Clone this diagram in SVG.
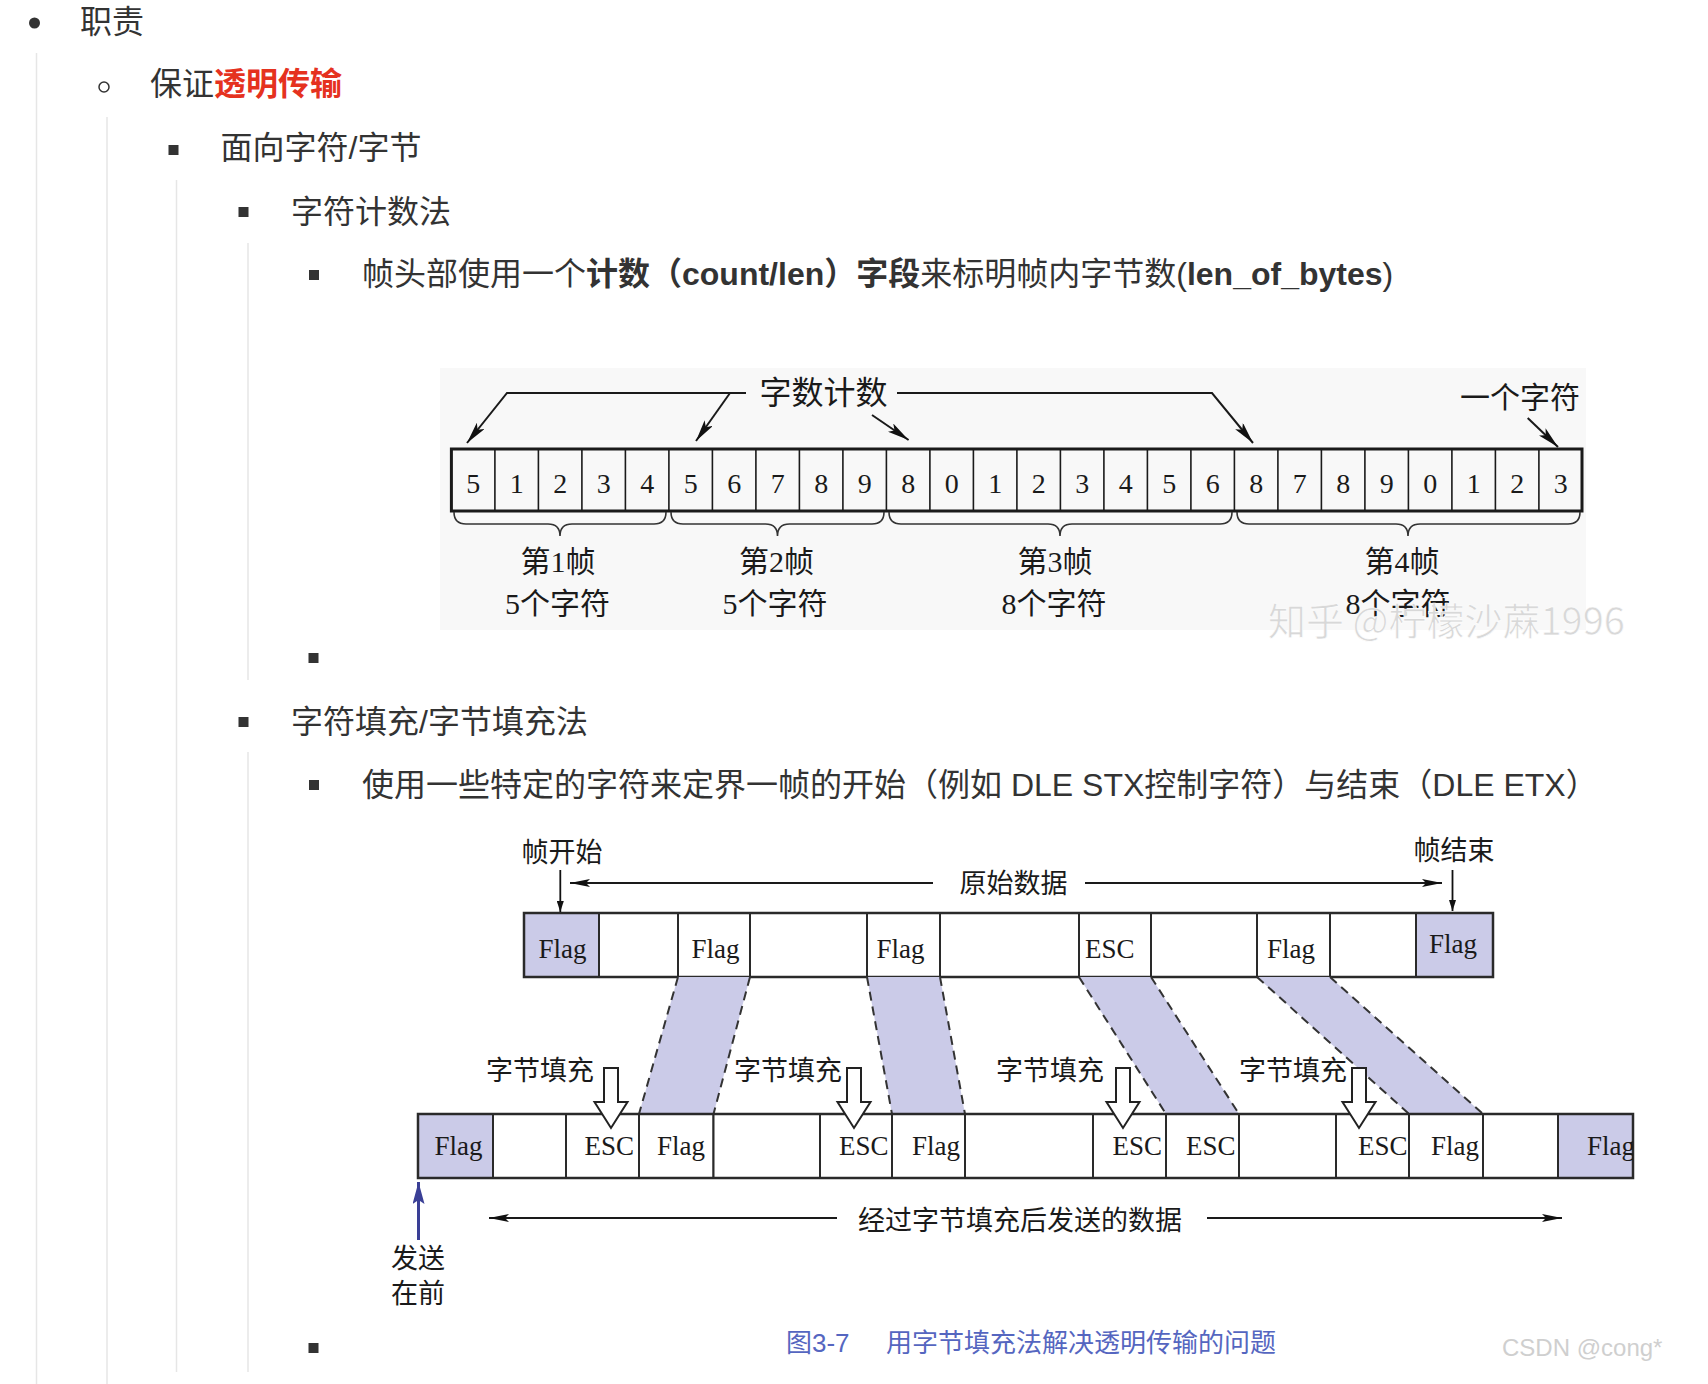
<svg xmlns="http://www.w3.org/2000/svg" width="1708" height="1384" viewBox="0 0 1708 1384">
<style>
.t{font-family:"Liberation Sans","Noto Sans CJK SC",sans-serif;font-size:32px;fill:#333}
.b{font-weight:bold}
.red{fill:#e5321f;font-weight:bold}
.guide{stroke:#e6e6e6;stroke-width:1.5}
.sq{fill:#333}
.fs{font-family:"Liberation Serif","Noto Sans CJK SC",serif;fill:#1a1a1a}
.d1{font-size:28px}
.l1{font-size:30px}
.l2{font-size:27px}
.cell{fill:none;stroke:#1a1a1a;stroke-width:1.6}
.outer{fill:none;stroke:#1a1a1a;stroke-width:3}
.ln{fill:none;stroke:#1a1a1a;stroke-width:2}
.brace{fill:none;stroke:#333;stroke-width:1.6}
.box{stroke:#2a2a2a;stroke-width:2}
.pur{fill:#cbcbe8}
.wht{fill:#fff}
.dash{fill:none;stroke:#333;stroke-width:2;stroke-dasharray:9 6}
.hollow{fill:#fff;stroke:#222;stroke-width:2}
</style>
<defs>
<marker id="ah" markerUnits="userSpaceOnUse" markerWidth="24" markerHeight="10" refX="22" refY="5" orient="auto"><path d="M0,0 L22,5 L0,10 L5,5 z" fill="#111"/></marker>
<marker id="ah2" markerUnits="userSpaceOnUse" markerWidth="22" markerHeight="8" refX="20" refY="4" orient="auto"><path d="M0,0 L20,4 L0,8 L4,4 z" fill="#111"/></marker>
<marker id="ah3" markerUnits="userSpaceOnUse" markerWidth="12" markerHeight="7" refX="11" refY="3.5" orient="auto"><path d="M0,0 L11,3.5 L0,7 z" fill="#111"/></marker>
<marker id="ahb" markerUnits="userSpaceOnUse" markerWidth="24" markerHeight="12" refX="22" refY="6" orient="auto"><path d="M0,0 L22,6 L0,12 L4,6 z" fill="#3a3f96"/></marker>
</defs>
<rect width="1708" height="1384" fill="#fff"/>

<g id="tree">
<line class="guide" x1="36.5" y1="53" x2="36.5" y2="1384"/>
<line class="guide" x1="107" y1="117" x2="107" y2="1384"/>
<line class="guide" x1="176.5" y1="180" x2="176.5" y2="1372"/>
<line class="guide" x1="248" y1="243" x2="248" y2="680"/>
<line class="guide" x1="248" y1="752" x2="248" y2="1372"/>
<circle cx="34.5" cy="23" r="5.5" fill="#333"/>
<text class="t" x="80" y="33">职责</text>
<circle cx="104" cy="87" r="5" fill="none" stroke="#333" stroke-width="1.5"/>
<text class="t" x="150" y="95">保证<tspan class="red">透明传输</tspan></text>
<rect class="sq" x="168.5" y="145" width="10" height="10"/>
<text class="t" x="220.5" y="159">面向字符/字节</text>
<rect class="sq" x="238.5" y="207" width="10" height="10"/>
<text class="t" x="291" y="222.5">字符计数法</text>
<rect class="sq" x="309" y="270" width="10" height="10"/>
<text class="t" x="362" y="285">帧头部使用一个<tspan class="b">计数（count/len）字段</tspan>来标明帧内字节数(<tspan class="b">len_of_bytes</tspan>)</text>
<rect class="sq" x="308.5" y="653" width="10" height="10"/>
<rect class="sq" x="238.5" y="717" width="10" height="10"/>
<text class="t" x="291" y="733">字符填充/字节填充法</text>
<rect class="sq" x="309" y="780" width="10" height="10"/>
<text class="t" x="362" y="796">使用一些特定的字符来定界一帧的开始（例如 DLE STX控制字符）与结束（DLE ETX）</text>
<rect class="sq" x="308.5" y="1343" width="10" height="10"/>
</g>

<g id="fig1">
<rect x="440" y="368" width="1146" height="262" fill="#f8f8f8"/>
<g id="cells">
<rect class="outer" x="451.4" y="449" width="1130.6" height="62"/>
<path class="cell" d="M494.9,449V511M538.4,449V511M581.9,449V511M625.4,449V511M668.9,449V511M712.4,449V511M755.9,449V511M799.4,449V511M842.9,449V511M886.4,449V511M929.9,449V511M973.4,449V511M1016.9,449V511M1060.4,449V511M1103.9,449V511M1147.4,449V511M1190.9,449V511M1234.4,449V511M1277.9,449V511M1321.4,449V511M1364.9,449V511M1408.4,449V511M1451.9,449V511M1495.4,449V511M1538.9,449V511"/>
<g class="fs d1" text-anchor="middle">
<text x="473.15" y="493">5</text><text x="516.65" y="493">1</text><text x="560.15" y="493">2</text><text x="603.65" y="493">3</text><text x="647.15" y="493">4</text>
<text x="690.65" y="493">5</text><text x="734.15" y="493">6</text><text x="777.65" y="493">7</text><text x="821.15" y="493">8</text><text x="864.65" y="493">9</text>
<text x="908.15" y="493">8</text><text x="951.65" y="493">0</text><text x="995.15" y="493">1</text><text x="1038.65" y="493">2</text><text x="1082.15" y="493">3</text><text x="1125.65" y="493">4</text><text x="1169.15" y="493">5</text><text x="1212.65" y="493">6</text>
<text x="1256.15" y="493">8</text><text x="1299.65" y="493">7</text><text x="1343.15" y="493">8</text><text x="1386.65" y="493">9</text><text x="1430.15" y="493">0</text><text x="1473.65" y="493">1</text><text x="1517.15" y="493">2</text><text x="1560.65" y="493">3</text>
</g>
</g>
<g id="braces">
<path class="brace" d="M454,512 Q454,524 466,524 L548,524 Q560,524 560,536 Q560,524 572,524 L654,524 Q666,524 666,512"/>
<path class="brace" d="M671,512 Q671,524 683,524 L765.5,524 Q777.5,524 777.5,536 Q777.5,524 789.5,524 L872,524 Q884,524 884,512"/>
<path class="brace" d="M889,512 Q889,524 901,524 L1048,524 Q1060,524 1060,536 Q1060,524 1072,524 L1220,524 Q1232,524 1232,512"/>
<path class="brace" d="M1237,512 Q1237,524 1249,524 L1396,524 Q1408,524 1408,536 Q1408,524 1420,524 L1568,524 Q1580,524 1580,512"/>
</g>
<g id="labels1" class="fs l1" text-anchor="middle">
<text x="558" y="572">第1帧</text><text x="557.5" y="614">5个字符</text>
<text x="776.5" y="572">第2帧</text><text x="775" y="614">5个字符</text>
<text x="1055" y="572">第3帧</text><text x="1054" y="614">8个字符</text>
<text x="1402" y="572">第4帧</text><text x="1398" y="614">8个字符</text>
<text x="823.5" y="404" font-size="32">字数计数</text>
<text x="1520" y="408">一个字符</text>
</g>
<text x="1268" y="635" font-family="Noto Sans CJK SC,sans-serif" font-size="38" fill="#d8d8d8" stroke="#fff" stroke-width="0.6">知乎 @柠檬沙蔴1996</text>
</g>

<g id="fig2">
<g id="topbox">
<rect class="box pur" x="524" y="913" width="75" height="64"/>
<rect class="box wht" x="599" y="913" width="79" height="64"/>
<rect class="box wht" x="678" y="913" width="72" height="64"/>
<rect class="box wht" x="750" y="913" width="117" height="64"/>
<rect class="box wht" x="867" y="913" width="73" height="64"/>
<rect class="box wht" x="940" y="913" width="139" height="64"/>
<rect class="box wht" x="1079" y="913" width="72" height="64"/>
<rect class="box wht" x="1151" y="913" width="106" height="64"/>
<rect class="box wht" x="1257" y="913" width="73" height="64"/>
<rect class="box wht" x="1330" y="913" width="86" height="64"/>
<rect class="box pur" x="1416" y="913" width="77" height="64"/>
<rect x="524" y="913" width="969" height="64" fill="none" stroke="#2a2a2a" stroke-width="2.5"/>
<g class="fs l2">
<text x="538.5" y="958">Flag</text><text x="691.5" y="958">Flag</text><text x="876.5" y="958">Flag</text><text x="1085" y="958">ESC</text><text x="1267" y="958">Flag</text><text x="1429" y="953">Flag</text>
</g>
</g>
<g id="bands">
<path class="pur" d="M678,977 L750,977 L713.5,1114 L639,1114 z"/>
<path class="pur" d="M867,977 L940,977 L965,1114 L892,1114 z"/>
<path class="pur" d="M1079,977 L1151,977 L1239,1114 L1166,1114 z"/>
<path class="pur" d="M1257,977 L1330,977 L1483,1114 L1409,1114 z"/>
<path class="dash" d="M678,977 L639,1114 M750,977 L713.5,1114 M867,977 L892,1114 M940,977 L965,1114 M1079,977 L1166,1114 M1151,977 L1239,1114 M1257,977 L1409,1114 M1330,977 L1483,1114"/>
</g>
<g id="botbox">
<rect class="box pur" x="418" y="1114" width="75" height="64"/>
<rect class="box wht" x="493" y="1114" width="73" height="64"/>
<rect class="box wht" x="566" y="1114" width="73" height="64"/>
<rect class="box wht" x="639" y="1114" width="74.5" height="64"/>
<rect class="box wht" x="713.5" y="1114" width="106.5" height="64"/>
<rect class="box wht" x="820" y="1114" width="72" height="64"/>
<rect class="box wht" x="892" y="1114" width="73" height="64"/>
<rect class="box wht" x="965" y="1114" width="128" height="64"/>
<rect class="box wht" x="1093" y="1114" width="73" height="64"/>
<rect class="box wht" x="1166" y="1114" width="73" height="64"/>
<rect class="box wht" x="1239" y="1114" width="97" height="64"/>
<rect class="box wht" x="1336" y="1114" width="73" height="64"/>
<rect class="box wht" x="1409" y="1114" width="74" height="64"/>
<rect class="box wht" x="1483" y="1114" width="75" height="64"/>
<rect class="box pur" x="1558" y="1114" width="75" height="64"/>
<rect x="418" y="1114" width="1215" height="64" fill="none" stroke="#2a2a2a" stroke-width="2.5"/>
<g class="fs l2">
<text x="434.5" y="1155">Flag</text><text x="584.5" y="1155">ESC</text><text x="657" y="1155">Flag</text><text x="839" y="1155">ESC</text><text x="912" y="1155">Flag</text><text x="1112.5" y="1155">ESC</text><text x="1186" y="1155">ESC</text><text x="1358" y="1155">ESC</text><text x="1431" y="1155">Flag</text>
<svg x="1558" y="1114" width="75" height="64" overflow="hidden"><text x="29" y="41">Flag</text></svg>
</g>
</g>
<g id="stuff-labels" class="fs l2">
<text x="486" y="1080">字节填充</text>
<text x="734" y="1080">字节填充</text>
<text x="996" y="1080">字节填充</text>
<text x="1239" y="1080">字节填充</text>
<polygon class="hollow" points="604,1068 618,1068 618,1102 627.5,1102 611,1128 594.5,1102 604,1102"/>
<polygon class="hollow" points="847,1068 861,1068 861,1102 870.5,1102 854,1128 837.5,1102 847,1102"/>
<polygon class="hollow" points="1116,1068 1130,1068 1130,1102 1139.5,1102 1123,1128 1106.5,1102 1116,1102"/>
<polygon class="hollow" points="1352,1068 1366,1068 1366,1102 1375.5,1102 1359,1128 1342.5,1102 1352,1102"/>
</g>
<g id="labels2" class="fs l2" text-anchor="middle">
<text x="562" y="862">帧开始</text>
<text x="1013.5" y="893">原始数据</text>
<text x="1454" y="860">帧结束</text>
<text x="1020" y="1230">经过字节填充后发送的数据</text>
<text x="418" y="1268">发送</text>
<text x="418" y="1303">在前</text>
</g>
<text x="786" y="1352" font-family="Liberation Sans,Noto Sans CJK SC,sans-serif" font-size="26" fill="#5566c0">图3-7<tspan x="886">用字节填充法解决透明传输的问题</tspan></text>
<text x="1502" y="1356" font-family="Liberation Sans,sans-serif" font-size="24" fill="#cfcfcf">CSDN @cong*</text>
</g>

<g id="connectors">
<path class="ln" d="M746,393 H507 L467,443" marker-end="url(#ah)"/>
<path class="ln" d="M730,393 L696,441" marker-end="url(#ah)"/>
<path class="ln" d="M872,415 L908.6,440" marker-end="url(#ah)"/>
<path class="ln" d="M897,393 H1212 L1253,443" marker-end="url(#ah)"/>
<path class="ln" d="M1527.7,418 L1558,447" marker-end="url(#ah)"/>
<path class="ln" d="M933,883 H570" marker-end="url(#ah2)"/>
<path class="ln" d="M1085,883 H1442" marker-end="url(#ah2)"/>
<path d="M560.3,870 V912" stroke="#111" stroke-width="1.8" marker-end="url(#ah3)"/>
<path d="M1452.5,870 V911" stroke="#111" stroke-width="1.8" marker-end="url(#ah3)"/>
<path class="ln" d="M837,1218 H489" marker-end="url(#ah2)"/>
<path class="ln" d="M1207,1218 H1562" marker-end="url(#ah2)"/>
<path d="M418.5,1240 V1182" stroke="#3a3f96" stroke-width="3" marker-end="url(#ahb)"/>
</g>
</svg>
